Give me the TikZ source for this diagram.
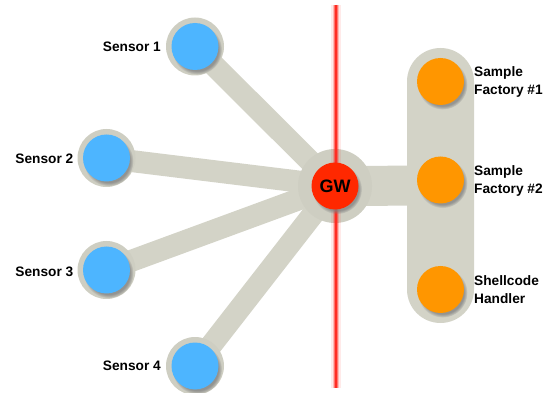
\documentclass[tikz,border=0pt]{standalone}
\usepackage{fontspec}
\setmainfont{Liberation Sans}
\usetikzlibrary{shadows,backgrounds}
\definecolor{band}{RGB}{211,211,199}
\definecolor{halo}{RGB}{206,206,194}
\definecolor{sblue}{RGB}{77,181,255}
\definecolor{sorange}{RGB}{255,150,0}
\definecolor{gwred}{RGB}{255,40,0}
\definecolor{linered}{RGB}{255,45,35}
\begin{document}
\begin{tikzpicture}[x=1pt,y=-1pt,
  dot/.style={circle, inner sep=0pt, minimum size=47pt,
    circular drop shadow={shadow xshift=2pt, shadow yshift=-3pt, shadow scale=1.06, opacity=0.75}},
  sensor/.style={dot, fill=sblue},
  factory/.style={dot, fill=sorange},
  lbl/.style={font=\bfseries\fontsize{13.7}{18}\selectfont, inner sep=0pt, align=left},
  conn/.style={draw=band, line width=22pt},
]
\useasboundingbox (0,0) rectangle (547,393);

\node[sensor] (s1) at (195,46.5) {};
\node[sensor] (s2) at (106.5,158) {};
\node[sensor] (s3) at (106.5,270) {};
\node[sensor] (s4) at (195,366) {};
\node[dot, fill=gwred, font=\bfseries\fontsize{18}{20}\selectfont] (gw) at (335,186) {GW};
\node[factory] (f1) at (440.5,81.5) {};
\node[factory] (f2) at (440.5,180) {};
\node[factory] (f3) at (440.5,289.5) {};

\node[lbl, anchor=east] (l1) at (161,47) {Sensor 1};
\node[lbl, anchor=east] (l2) at (73.5,159) {Sensor 2};
\node[lbl, anchor=east] (l3) at (73.5,272) {Sensor 3};
\node[lbl, anchor=east] (l4) at (161,366) {Sensor 4};
\node[lbl, anchor=west] (l5) at (474,81.5) {Sample\\Factory \#1};
\node[lbl, anchor=west] (l6) at (474,180.5) {Sample\\Factory \#2};
\node[lbl, anchor=west] (l7) at (474,289.5) {Shellcode\\Handler};

\coordinate (rtop) at (336,5);
\coordinate (rbot) at (336,388);

\begin{pgfonlayer}{background}
  \node[fill=band, rounded corners=33.5pt, minimum width=67pt, minimum height=275pt, inner sep=0pt] (pill) at (440.5,185.5) {};
  \draw[conn] (s1.center) -- (gw.center);
  \draw[conn] (s2.center) -- (gw.center);
  \draw[conn] (s3.center) -- (gw.center);
  \draw[conn] (s4.center) -- (gw.center);
  \draw[draw=band, line width=40pt] (gw.center) -- (pill.center);
  \foreach \n in {s1,s2,s3,s4} {\fill[halo] (\n.center) circle (29pt);}
  \fill[halo] (gw.center) circle (37pt);
  \draw[linered, opacity=0.10, line width=10pt] (rtop) -- (rbot);
  \draw[linered, opacity=0.25, line width=6pt] (rtop) -- (rbot);
  \draw[linered, opacity=0.5, line width=3.5pt] (rtop) -- (rbot);
  \draw[linered, line width=2pt] (rtop) -- (rbot);
\end{pgfonlayer}
\end{tikzpicture}
\end{document}
